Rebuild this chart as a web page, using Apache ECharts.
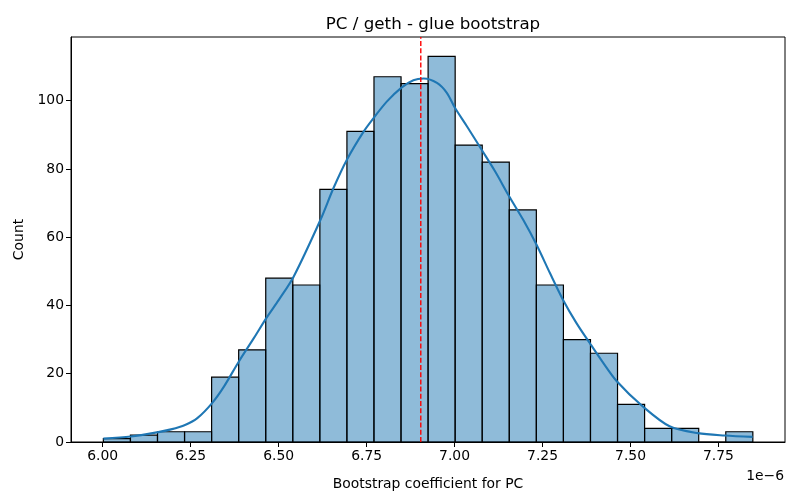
<!DOCTYPE html>
<html>
<head>
<meta charset="utf-8">
<title>PC / geth - glue bootstrap</title>
<script src="https://cdn.jsdelivr.net/npm/echarts@6/dist/echarts.min.js"></script>
<style>
  html, body { margin: 0; padding: 0; background: #fff; }
  #chart { width: 800px; height: 500px; }
</style>
</head>
<body>
<div id="chart"></div>
<script>
// histogram bins (x in units of 1e-6)
var binStart = 6.002;
var binWidth = 0.0769;
var binCounts = [1, 2, 3, 3, 19, 27, 48, 46, 74, 91, 107, 105, 113, 87, 82, 68, 46, 30, 26, 11, 4, 4, 0, 3];

// kde curve: [x, count]
var kdeX = [6.002, 6.080, 6.158, 6.194, 6.234, 6.269, 6.311, 6.345, 6.387, 6.430, 6.465, 6.501,
  6.543, 6.619, 6.656, 6.694, 6.742, 6.772, 6.808, 6.850, 6.883, 6.912, 6.950, 6.978, 7.001,
  7.035, 7.077, 7.115, 7.155, 7.195, 7.233, 7.271, 7.308, 7.346, 7.384, 7.417, 7.461, 7.535,
  7.611, 7.691, 7.768, 7.847];
var kdeY = [1.0, 1.6, 2.9, 3.7, 5.0, 7.0, 11.4, 16.3, 23.6, 30.5, 36.3, 41.7,
  48.5, 65.1, 74.4, 82.7, 91.0, 95.2, 99.8, 103.9, 106.0, 106.5, 105.2, 102.3, 97.9,
  92.5, 85.6, 79.3, 72.0, 65.1, 57.8, 49.5, 41.7, 34.9, 29.0, 24.0, 17.8, 10.4,
  4.6, 2.6, 1.9, 1.5];

var meanValue = 6.904;

var xTicks = [6.00, 6.25, 6.50, 6.75, 7.00, 7.25, 7.50, 7.75];
var yTicks = [0, 20, 40, 60, 80, 100];

var xMin = 5.910, xMax = 7.939;
var yMax = 118.65;

var fontFam = 'DejaVu Sans';

var histData = binCounts.map(function(c, i) {
  return [binStart + i * binWidth, binStart + (i + 1) * binWidth, c];
});
var kdeData = kdeX.map(function(x, i) { return [x, kdeY[i]]; });

var chart = echarts.init(document.getElementById('chart'));

var option = {
  animation: false,
  title: {
    text: 'PC / geth - glue bootstrap',
    left: 428,
    top: 11,
    textAlign: 'center',
    textStyle: { fontFamily: fontFam, fontSize: 16.7, fontWeight: 'normal', color: '#000' }
  },
  grid: {
    left: 71, right: 15, top: 37, bottom: 58,
    show: true, borderColor: '#000', borderWidth: 1, backgroundColor: 'transparent'
  },
  xAxis: {
    type: 'value',
    min: xMin,
    max: xMax,
    name: 'Bootstrap coefficient for PC',
    nameLocation: 'middle',
    nameGap: 35,
    nameTextStyle: { fontFamily: fontFam, fontSize: 13.9, color: '#000' },
    axisLine: { show: true, onZero: false, lineStyle: { color: '#000', width: 1 } },
    axisTick: { show: true, length: 5, lineStyle: { color: '#000' }, customValues: xTicks },
    axisLabel: {
      customValues: xTicks,
      margin: 7,
      fontFamily: fontFam, fontSize: 13.9, color: '#000',
      formatter: function(v) { return v.toFixed(2); }
    },
    splitLine: { show: false }
  },
  yAxis: {
    type: 'value',
    min: 0,
    max: yMax,
    name: 'Count',
    nameLocation: 'middle',
    nameGap: 42,
    nameRotate: 90,
    nameTextStyle: { fontFamily: fontFam, fontSize: 13.9, color: '#000' },
    axisLine: { show: true, lineStyle: { color: '#000', width: 1 } },
    axisTick: { show: true, length: 5, lineStyle: { color: '#000' }, customValues: yTicks },
    axisLabel: {
      customValues: yTicks,
      margin: 7,
      fontFamily: fontFam, fontSize: 13.9, color: '#000'
    },
    splitLine: { show: false }
  },
  graphic: [{
    type: 'text',
    right: 16,
    top: 469,
    style: { text: '1e\u22126', font: '13.9px "DejaVu Sans"', fill: '#000' }
  }],
  series: [
    {
      type: 'custom',
      name: 'hist',
      data: histData,
      encode: { x: [0, 1], y: 2 },
      renderItem: function(params, api) {
        var p0 = api.coord([api.value(0), 0]);
        var p1 = api.coord([api.value(1), api.value(2)]);
        return {
          type: 'rect',
          shape: { x: p0[0], y: p1[1], width: p1[0] - p0[0], height: p0[1] - p1[1] },
          style: { fill: 'rgba(31,119,180,0.5)', stroke: '#000', lineWidth: 1.2 }
        };
      },
      z: 2
    },
    {
      type: 'line',
      name: 'kde',
      data: kdeData,
      smooth: 0.3,
      showSymbol: false,
      symbol: 'none',
      lineStyle: { color: '#1f77b4', width: 2.1 },
      z: 3
    },
    {
      type: 'custom',
      name: 'mean',
      data: [[meanValue]],
      encode: { x: 0 },
      silent: true,
      z: 10,
      renderItem: function(params, api) {
        var pb = api.coord([api.value(0), 0]);
        var pt = api.coord([api.value(0), yMax]);
        return {
          type: 'line',
          shape: { x1: pb[0], y1: pb[1], x2: pt[0], y2: pt[1] },
          style: { stroke: '#ff0000', lineWidth: 1.4, lineDash: [5, 2.2] }
        };
      }
    }
  ]
};

chart.setOption(option);
</script>
</body>
</html>
